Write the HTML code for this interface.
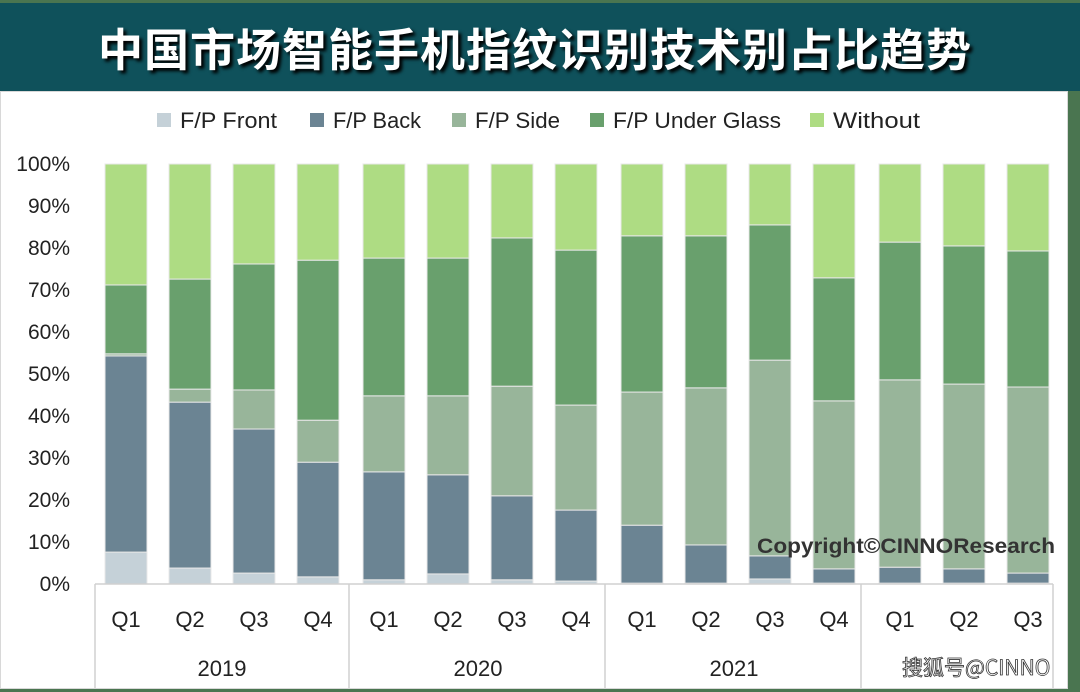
<!DOCTYPE html>
<html><head><meta charset="utf-8">
<style>
html,body{margin:0;padding:0;}
body{width:1080px;height:692px;background:#4a7550;position:relative;overflow:hidden;font-family:"Liberation Sans","Noto Sans CJK SC",sans-serif;}
#banner{position:absolute;left:0;top:3px;width:1080px;height:88px;background:#0f515b;}
#title{position:absolute;left:0;top:3px;width:1070px;height:88px;line-height:88px;text-align:center;color:#fff;font-size:45px;font-weight:bold;font-family:"Noto Sans CJK SC",sans-serif;text-shadow:3px 3px 3px #000;letter-spacing:1px}
#panel{position:absolute;left:0;top:91px;width:1068px;height:598px;background:#fff;border:1px solid #d8d8d8;box-sizing:border-box;}
svg{position:absolute;left:0;top:0;}
</style></head><body>
<div id="banner"></div>
<div id="title">中国市场智能手机指纹识别技术别占比趋势</div>
<div id="panel"></div>
<svg id="chart" width="1080" height="692"></svg>
<script>
const quarters=["Q1","Q2","Q3","Q4","Q1","Q2","Q3","Q4","Q1","Q2","Q3","Q4","Q1","Q2","Q3"];
const years=["2019","2020","2021",""];
const seriesNames=["F/P Front","F/P Back","F/P Side","F/P Under Glass","Without"];
const front=[7.6,3.8,2.6,1.7,1.0,2.4,1.0,0.7,0.2,0.2,1.2,0.2,0.2,0.2,0.2];
const back=[46.7,39.5,34.3,27.3,25.7,23.6,20.0,16.9,13.8,9.1,5.5,3.4,3.8,3.4,2.4];
const side=[0.5,3.1,9.3,10.0,18.1,18.8,26.1,25.0,31.7,37.4,46.6,40.0,44.6,44.0,44.3];
const underGlass=[16.4,26.2,30.0,38.1,32.8,32.8,35.3,36.9,37.2,36.2,32.2,29.3,32.8,32.9,32.4];
const without=[28.8,27.4,23.8,22.9,22.4,22.4,17.6,20.5,17.1,17.1,14.5,27.1,18.6,19.5,20.7];
const yTicks=[0,10,20,30,40,50,60,70,80,90,100];
const colors=["#c5d1d8","#6b8493","#98b59a","#69a06d","#aedc83"];
const NS="http://www.w3.org/2000/svg";
const svg=document.getElementById('chart');
const x0=95,step=64,y0=584,yTop=164,bw=42;
const yS=v=>y0-(v/100)*(y0-yTop);
const xC=i=>x0+31+i*step+(i>=4?2:0)+(i>=8?2:0)+(i>=12?2:0);
function mk(t,a){const e=document.createElementNS(NS,t);for(const k in a)e.setAttribute(k,a[k]);svg.appendChild(e);return e;}
yTicks.forEach(v=>{
 const t=mk('text',{x:70,y:yS(v)+7,'text-anchor':'end','font-size':21,fill:'#222'});
 t.textContent=v+'%';
 
 
});
const series=[front,back,side,underGlass,without];
quarters.forEach((q,i)=>{
 let cum=0;
 series.forEach((s,k)=>{
  const y1=yS(cum),y2=yS(cum+s[i]);cum+=s[i];
  const r=mk('rect',{x:xC(i)-bw/2,y:y2,width:bw,height:Math.max(0,y1-y2),fill:colors[k],stroke:'#e8e8e8','stroke-width':1});
  
  
 });
 const t=mk('text',{x:xC(i),y:627,'text-anchor':'middle','font-size':22,fill:'#222'});
 t.textContent=q;
 
 
});
const ax=mk('line',{x1:x0,y1:y0,x2:1053,y2:y0,stroke:'#d0d0d0','stroke-width':1.5});


[95,349,605,861,1053].forEach(x=>{
 const l=mk('line',{x1:x,y1:y0,x2:x,y2:688,stroke:'#d0d0d0','stroke-width':1.5});
 
 
});
years.forEach((yr,g)=>{
 const t=mk('text',{x:95+g*256+127,y:676,'text-anchor':'middle','font-size':22,fill:'#222'});
 t.textContent=yr;
 
 
});
const legX=[157,310,452,590,810];
const legW=[97,88,85,168,87];
seriesNames.forEach((n,k)=>{
 const r=mk('rect',{x:legX[k],y:113,width:14,height:14,fill:colors[k]});
 
 
 const t=mk('text',{x:legX[k]+23,y:128,'font-size':22,fill:'#222',textLength:legW[k],lengthAdjust:'spacingAndGlyphs'});
 t.textContent=n;
 
 
});
const c=mk('text',{x:757,y:553,'font-size':21,'font-weight':'bold',fill:'#333',textLength:298,lengthAdjust:'spacingAndGlyphs'});
c.textContent='Copyright©CINNOResearch';


const w=mk('text',{x:902,y:675,'font-size':21,fill:'#fff',stroke:'#333','stroke-width':0.8,'font-family':'"Noto Sans CJK SC",sans-serif'});
w.textContent='搜狐号@CINNO';


</script>
</body></html>
